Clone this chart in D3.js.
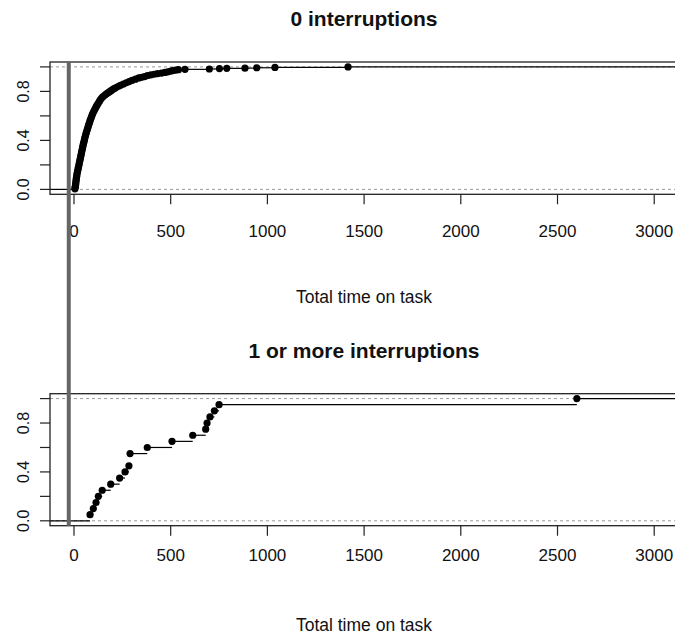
<!DOCTYPE html>
<html>
<head>
<meta charset="utf-8">
<script src="https://cdn.jsdelivr.net/npm/d3@7"></script>
<style>
  body { margin: 0; background: #fff; }
  text { font-family: "Liberation Sans", Arial, sans-serif; fill: #111; }
</style>
</head>
<body>
<div id="canvas"></div>
<script>
// times, with the cumulative share at each point
const noIntTimes = [5, 6, 7, 8, 9, 10, 11, 12, 14, 15, 17, 19, 21, 23, 25, 27, 29, 31, 33, 35,
  37, 39, 41, 43, 45, 47, 49, 52, 54, 56, 59, 61, 64, 67, 70, 73, 76, 79, 82, 85,
  89, 92, 96, 100, 105, 110, 115, 120, 126, 132, 138, 145, 152, 160, 168, 177, 186, 195, 205, 215,
  228, 240, 255, 270, 285, 300, 318, 335, 350, 365, 380, 398, 415, 432, 453, 470, 485, 500, 512, 525,
  540, 574, 700, 752, 790, 884, 945, 1039, 1417];
const noIntProb = [0.005, 0.015, 0.025, 0.035, 0.045, 0.06, 0.075, 0.09, 0.105, 0.12, 0.135, 0.15, 0.165, 0.18, 0.195, 0.21, 0.225, 0.24, 0.255, 0.27,
  0.285, 0.3, 0.315, 0.33, 0.345, 0.36, 0.375, 0.39, 0.405, 0.42, 0.435, 0.45, 0.465, 0.48, 0.495, 0.51, 0.527, 0.54, 0.555, 0.57,
  0.585, 0.6, 0.615, 0.63, 0.645, 0.66, 0.675, 0.69, 0.705, 0.72, 0.735, 0.75, 0.76, 0.77, 0.78, 0.79, 0.8, 0.81, 0.82, 0.83,
  0.84, 0.85, 0.86, 0.87, 0.88, 0.89, 0.9, 0.91, 0.915, 0.92, 0.93, 0.935, 0.94, 0.945, 0.95, 0.955, 0.96, 0.965, 0.97, 0.973,
  0.977, 0.98, 0.983, 0.986, 0.988, 0.99, 0.993, 0.996, 1.0];

// raw times for the lower group (ecdf is worked out below)
const someIntTimes = [83, 100, 114, 126, 146, 190, 236, 264, 284, 290, 290, 379, 507, 614, 681, 688, 703, 726, 750, 2600];

const xTicks = [0, 500, 1000, 1500, 2000, 2500, 3000];
const yTicks = [0, 0.2, 0.4, 0.6, 0.8, 1];
const yTickLabels = ["0.0", "", "0.4", "", "0.8", ""];
const panelTitles = ["0 interruptions", "1 or more interruptions"];
const axisTitle = "Total time on task";
const refLineX = -27;

const svg = d3
  .select("#canvas")
  .append("svg")
  .attr("width", 675)
  .attr("height", 637);

const x = d3.scaleLinear().domain([-124, 3123]).range([50, 678]);

const sorted = someIntTimes.slice().sort(d3.ascending);
const someUniq = Array.from(new Set(sorted));
const someIntProb = someUniq.map(t => d3.bisectRight(sorted, t) / sorted.length);

const panels = [
  { title: panelTitles[0], top: 62, bottom: 194.3, times: noIntTimes, prob: noIntProb, titleY: 26, tickY: 237, labY: 303 },
  { title: panelTitles[1], top: 393.7, bottom: 525.7, times: someUniq, prob: someIntProb, titleY: 358, tickY: 561, labY: 631 }
];

const left = x.range()[0], right = x.range()[1];

panels.forEach(p => {
  const y = d3.scaleLinear().domain([-0.04, 1.04]).range([p.bottom, p.top]);
  const g = svg.append("g");

  // grey guides at 0 and 1
  g.selectAll(".guide")
    .data([0, 1])
    .enter()
    .append("line")
    .attr("x1", left)
    .attr("x2", right)
    .attr("y1", d => y(d))
    .attr("y2", d => y(d))
    .style("stroke", "#999")
    .style("stroke-width", 1)
    .style("stroke-dasharray", "3,3");

  // step segments
  const pts = p.times.map((t, i) => ({ t: t, f: p.prob[i] }));
  const segs = [{ x1: left, x2: x(pts[0].t), f: 0 }];
  pts.forEach((d, i) => {
    const next = i < pts.length - 1 ? x(pts[i + 1].t) : right;
    segs.push({ x1: x(d.t), x2: next, f: d.f });
  });
  g.selectAll(".seg")
    .data(segs)
    .enter()
    .append("line")
    .attr("x1", d => d.x1)
    .attr("x2", d => d.x2)
    .attr("y1", d => y(d.f))
    .attr("y2", d => y(d.f))
    .style("stroke", "#000")
    .style("stroke-width", 1.2);

  g.selectAll(".dot")
    .data(pts)
    .enter()
    .append("circle")
    .attr("cx", d => x(d.t))
    .attr("cy", d => y(d.f))
    .attr("r", 3.6)
    .attr("fill", "#000");

  // frame
  g.append("rect")
    .attr("x", left)
    .attr("y", p.top)
    .attr("width", right - left)
    .attr("height", p.bottom - p.top)
    .attr("fill", "none")
    .style("stroke", "#222")
    .style("stroke-width", 1.3);

  // x axis
  const xAxis = g.append("g").attr("transform", `translate(0, ${p.bottom})`);
  xAxis.selectAll("line")
    .data(xTicks)
    .enter()
    .append("line")
    .attr("x1", d => x(d))
    .attr("x2", d => x(d))
    .attr("y1", 0)
    .attr("y2", 10)
    .style("stroke", "#222")
    .style("stroke-width", 1.2);
  g.selectAll(".xlab")
    .data(xTicks)
    .enter()
    .append("text")
    .attr("x", d => x(d))
    .attr("y", p.tickY)
    .attr("text-anchor", "middle")
    .style("font-size", "17px")
    .text(d => d);

  // y axis
  g.selectAll(".ytick")
    .data(yTicks)
    .enter()
    .append("line")
    .attr("x1", left - 10)
    .attr("x2", left)
    .attr("y1", d => y(d))
    .attr("y2", d => y(d))
    .style("stroke", "#222")
    .style("stroke-width", 1.2);
  g.selectAll(".ylab")
    .data(yTicks)
    .enter()
    .append("text")
    .attr("transform", d => `translate(28.5, ${y(d)}) rotate(-90)`)
    .attr("text-anchor", "middle")
    .style("font-size", "16px")
    .text((d, i) => yTickLabels[i]);

  g.append("text")
    .attr("x", 364)
    .attr("y", p.titleY)
    .attr("text-anchor", "middle")
    .style("font-size", "21px")
    .style("font-weight", "bold")
    .text(p.title);

  g.append("text")
    .attr("x", 364)
    .attr("y", p.labY)
    .attr("text-anchor", "middle")
    .style("font-size", "17.5px")
    .text(axisTitle);
});

// thick grey vertical line running through both panels
svg.append("line")
  .attr("x1", x(refLineX))
  .attr("x2", x(refLineX))
  .attr("y1", panels[0].top)
  .attr("y2", panels[1].bottom)
  .style("stroke", "#666")
  .style("stroke-width", 4);
</script>
</body>
</html>
